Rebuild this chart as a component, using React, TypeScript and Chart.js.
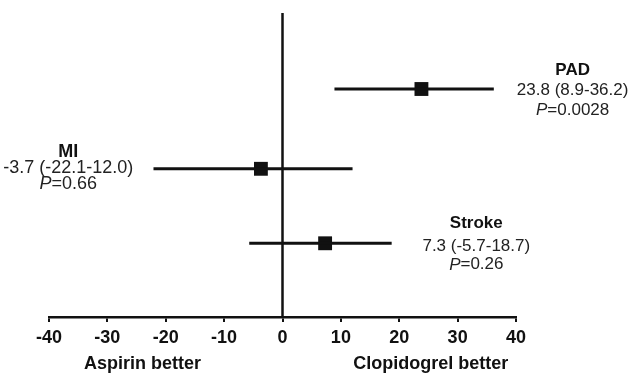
import React, { useEffect, useRef } from "react";
import { Chart, registerables } from "chart.js";

Chart.register(...registerables);

const outcomes = ["PAD", "MI", "Stroke"];
const estimates = [23.8, -3.7, 7.3];
const lowerCI = [8.9, -22.1, -5.7];
const upperCI = [36.2, 12.0, 18.7];
const pValues = ["0.0028", "0.66", "0.26"];
const rowPositions = [3.0, 1.95, 0.97];
const xTicks = [-40, -30, -20, -10, 0, 10, 20, 30, 40];
const favourLabels = ["Aspirin better", "Clopidogrel better"];
const favourPositions = [-24, 25.4];

// label block anchors (x in data units, pixel offsets of the three text lines from row)
const labelAnchorX = [49.7, -36.7, 33.2];
const labelLineOffsets = [
  [-19, 1.5, 21],
  [-17, -1, 15],
  [-20, 3.5, 21.5],
];
const labelSizes = [17, 18, 17];

const FONT = "'Liberation Sans', Arial, sans-serif";
const INK = "#111";

const textPlugin = {
  id: "forestText",
  afterDatasetsDraw(chart: any) {
    const { ctx, scales } = chart;
    const xs = scales.x;
    const ys = scales.y;
    ctx.save();
    ctx.textBaseline = "middle";
    outcomes.forEach((name, i) => {
      const cx = xs.getPixelForValue(labelAnchorX[i]);
      const cy = ys.getPixelForValue(rowPositions[i]);
      const off = labelLineOffsets[i];
      const fs = labelSizes[i];
      ctx.fillStyle = INK;
      ctx.textAlign = "center";
      ctx.font = `bold ${fs}px ${FONT}`;
      ctx.fillText(name, cx, cy + off[0]);
      ctx.fillStyle = "#222";
      ctx.font = `${fs}px ${FONT}`;
      const ci = `${estimates[i].toFixed(1)} (${lowerCI[i].toFixed(1)}-${upperCI[i].toFixed(1)})`;
      ctx.fillText(ci, cx, cy + off[1]);
      // P value with italic P
      ctx.font = `italic ${fs}px ${FONT}`;
      const wP = ctx.measureText("P").width;
      ctx.font = `${fs}px ${FONT}`;
      const rest = `=${pValues[i]}`;
      const wR = ctx.measureText(rest).width;
      const start = cx - (wP + wR) / 2;
      ctx.textAlign = "left";
      ctx.font = `italic ${fs}px ${FONT}`;
      ctx.fillText("P", start, cy + off[2]);
      ctx.font = `${fs}px ${FONT}`;
      ctx.fillText(rest, start + wP, cy + off[2]);
    });
    // favour labels under the axis
    ctx.fillStyle = INK;
    ctx.textAlign = "center";
    ctx.font = `bold 18px ${FONT}`;
    favourLabels.forEach((t, i) => {
      ctx.fillText(t, xs.getPixelForValue(favourPositions[i]), chart.chartArea.bottom + 47);
    });
    ctx.restore();
  },
};

export default function App() {
  const ref = useRef<HTMLCanvasElement | null>(null);
  useEffect(() => {
    if (!ref.current) return;
    const datasets: any[] = [];
    outcomes.forEach((_, i) => {
      datasets.push({
        data: [
          { x: lowerCI[i], y: rowPositions[i] },
          { x: upperCI[i], y: rowPositions[i] },
        ],
        showLine: true,
        borderColor: INK,
        borderWidth: 3,
        pointRadius: 0,
      });
    });
    datasets.push({
      data: [
        { x: 0, y: 0 },
        { x: 0, y: 4 },
      ],
      showLine: true,
      borderColor: INK,
      borderWidth: 2.5,
      pointRadius: 0,
    });
    datasets.push({
      data: outcomes.map((_, i) => ({ x: estimates[i], y: rowPositions[i] })),
      showLine: false,
      pointStyle: "rect",
      pointRadius: 9.8,
      backgroundColor: INK,
      borderColor: INK,
      borderWidth: 0,
    });
    const chart = new Chart(ref.current, {
      type: "scatter",
      data: { datasets },
      plugins: [textPlugin],
      options: {
        animation: false,
        responsive: true,
        maintainAspectRatio: false,
        layout: { padding: { left: 49, right: 117, top: 13, bottom: 0 } },
        plugins: { legend: { display: false }, tooltip: { enabled: false } },
        scales: {
          x: {
            type: "linear",
            min: -40,
            max: 40,
            afterBuildTicks: (scale: any) => {
              scale.ticks = xTicks.map((v) => ({ value: v }));
            },
            afterFit: (scale: any) => {
              scale.height = 56;
            },
            ticks: {
              color: INK,
              font: { family: FONT, size: 18, weight: "bold" },
              padding: 5,
            },
            grid: {
              display: true,
              drawOnChartArea: false,
              drawTicks: true,
              tickLength: 5,
              color: INK,
              lineWidth: 2,
            },
            border: { display: true, color: INK, width: 2.5 },
          },
          y: { display: false, min: 0, max: 4 },
        },
      },
    });
    return () => chart.destroy();
  }, []);
  return (
    <div style={{ position: "fixed", left: 0, top: 0, width: 633, height: 373, background: "#fff" }}>
      <canvas ref={ref} />
    </div>
  );
}
